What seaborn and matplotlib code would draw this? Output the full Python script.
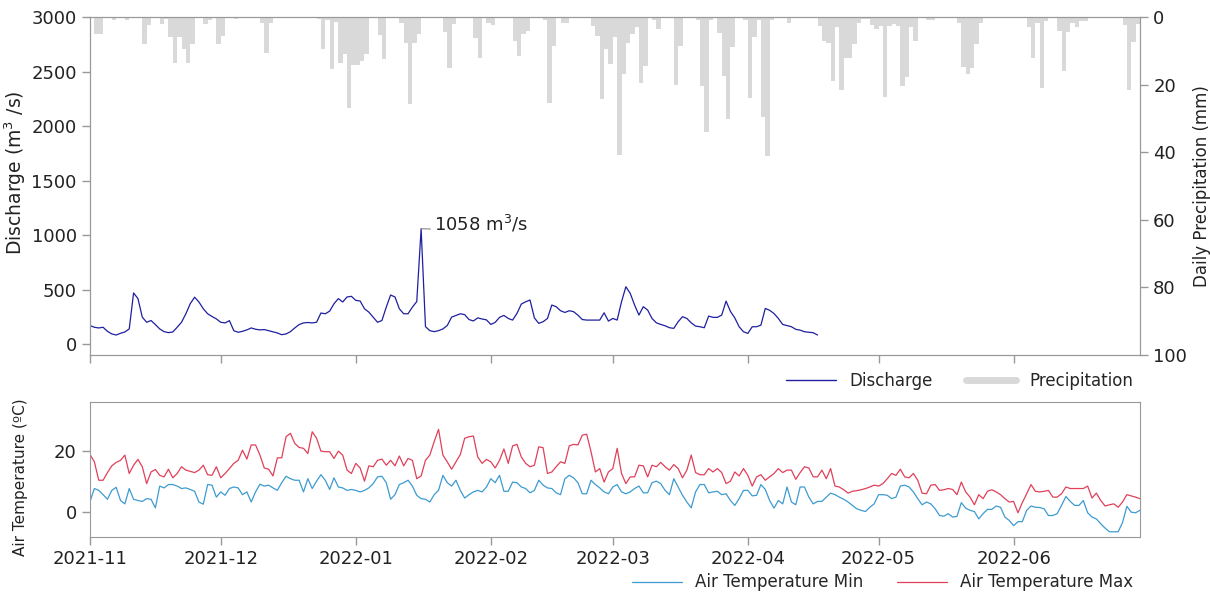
import numpy as np
import pandas as pd
import matplotlib
matplotlib.use("Agg")
import matplotlib.pyplot as plt
import matplotlib.dates as mdates
from matplotlib.lines import Line2D
import seaborn as sns

# ---------------- data ----------------
start_date = "2021-11-01"
end_date = "2022-06-30"

# daily precipitation (mm), one list per month
precip_nov = [0, 5, 5, 0, 0, 1, 0, 0, 1, 0, 0, 0, 8, 2.4, 0, 0, 2, 0.7, 6, 13.5,
              6, 9.6, 13.5, 8, 0, 0, 2, 1, 0, 8]
precip_dec = [5.6, 0, 0, 0.7, 0, 0, 0, 0, 0, 1.7, 10.5, 1.7, 0, 0, 0, 0, 0, 0.3, 0, 0,
              0, 0, 0.5, 9.4, 1, 15.5, 1.5, 13.5, 10.8, 27, 14.2]
precip_jan = [14.2, 13, 10.8, 0, 0, 5.3, 12.5, 0, 0, 0, 1.7, 7.6, 25.8, 7.6, 5, 0, 0, 0, 0, 0,
              4.3, 15.2, 2, 0, 0, 0, 0, 6.3, 12, 0, 1.7]
precip_feb = [2.4, 0, 0, 0, 0, 7, 11.5, 5, 4, 0, 0, 0, 1, 25.5, 8.6, 0, 1.7, 1.7, 0, 0,
              0, 0, 0, 2.7, 5.6, 24.4, 9.6, 14]
precip_mar = [6, 40.8, 17, 7.6, 5, 3, 19.4, 14.5, 0, 1, 3.6, 0, 0, 0, 20, 8.6, 0, 0, 0, 1,
              20.4, 34, 1, 0, 4.6, 17.5, 30.3, 9, 0, 0, 1]
precip_apr = [23.9, 6, 1, 29.6, 41, 1, 0, 0, 0, 1.7, 0, 0, 0, 0.3, 0.3, 0.3, 2.7, 7, 7.6, 19,
              3, 21.7, 12.2, 12, 8, 1.7, 0.7, 0.7, 2.4, 3.6]
precip_may = [2.7, 23.7, 2.7, 2.2, 2.7, 20.4, 17.8, 3, 7, 0, 0, 1, 1, 0, 0, 0, 0, 0, 1.7, 14.8,
              17, 15, 8, 1.7, 0, 0, 0, 0, 0, 0, 0]
precip_jun = [0, 0, 0, 3, 12, 1.7, 21, 1.2, 0, 0, 4, 16, 4.3, 1.7, 3, 1.2, 1.2, 0, 0, 0,
              0, 0, 0, 0, 0, 2.4, 21.7, 7.3, 2, 0]

# daily mean discharge (m3/s), 2021-11-01 .. 2022-04-17
discharge = [170, 154, 148, 154, 117, 93, 83, 99, 111, 139,
             469, 417, 247, 200, 216, 179, 139, 114, 105, 111,
             154, 200, 278, 370, 430, 386, 324, 278, 253, 231,
             200, 194, 215, 123, 108, 117, 130, 148, 136, 130,
             133, 123, 114, 102, 86, 93, 114, 148, 179, 194,
             198, 194, 200, 285, 278, 302, 370, 417, 386, 432,
             438, 401, 395, 324, 293, 247, 200, 216, 339, 450,
             432, 324, 278, 278, 339, 390, 1058, 160, 123, 114,
             123, 139, 170, 247, 262, 278, 270, 225, 212, 240,
             230, 222, 180, 199, 245, 263, 235, 220, 281, 367,
             388, 404, 240, 190, 205, 235, 358, 343, 306, 290,
             306, 297, 265, 225, 220, 220, 220, 220, 287, 211,
             235, 220, 388, 526, 465, 358, 266, 343, 312, 235,
             195, 180, 168, 150, 144, 205, 251, 235, 195, 165,
             159, 150, 257, 245, 245, 266, 394, 300, 240, 159,
             113, 98, 159, 159, 174, 327, 310, 280, 235, 180,
             170, 159, 135, 128, 113, 108, 104, 83]
peak_value = 1058

# daily air temperature (degC), 2021-11-01 .. 2022-06-30
temp_max = [18.9, 16.5, 10.5, 10.5, 13, 15.2, 16.3, 17, 18.7, 12.7,
            15.4, 17.3, 14.9, 9.4, 13.2, 14, 12.1, 11.6, 14.1, 11.3,
            12.7, 14.9, 13.8, 13.4, 13, 13.8, 15.4, 12.3, 12.1, 14.9,
            11.3, 12.7, 14.3, 16, 17, 20.3, 17.4, 22, 22, 18.7,
            14.5, 14.1, 11.9, 17.8, 17.8, 24.7, 25.8, 22.5, 21.2, 20.9,
            19.2, 26.3, 24.2, 20, 19.8, 19.8, 17.6, 20, 18.7, 13.8,
            12.7, 16, 14.5, 10.2, 15.2, 14.9, 17, 17.4, 15.4, 17,
            15.2, 18.4, 15.2, 17.6, 17, 11, 11.9, 17, 18.7, 23.1,
            27.1, 18.7, 16.5, 14.1, 16.5, 18.9, 24.2, 24.7, 24.9, 18.1,
            16, 17.3, 16.5, 14.5, 17, 20.7, 16, 21.7, 22.2, 18.1,
            16, 14.9, 15.4, 21.4, 21.1, 12.7, 13.2, 14.9, 16.5, 16,
            21.7, 22.2, 22, 25.2, 25.5, 19.8, 13.2, 14.3, 9.9, 13.2,
            14.3, 20.9, 12.7, 9.4, 11.6, 11.6, 15.4, 15.2, 11.6, 15.4,
            14.9, 16.3, 14.9, 13.8, 15.6, 14.3, 11.3, 13.8, 18.7, 13,
            12.3, 12.3, 14.3, 13.2, 14.3, 13, 9.4, 10.2, 13.2, 11.9,
            14.3, 12.1, 8.6, 11.6, 12.3, 10.5, 11.6, 12.7, 14.3, 13,
            13.8, 13.8, 10.8, 13, 14.9, 14.5, 11.6, 11.6, 13.8, 11,
            14.3, 8.6, 8.3, 7.4, 6.3, 6.9, 7.1, 7.4, 7.8, 8.3,
            8.9, 8.6, 9.4, 11, 12.7, 12.1, 14.1, 11.6, 11.3, 12.7,
            10.5, 6.3, 6.1, 8.9, 9.1, 7.2, 7.4, 7.8, 7.5, 5.8,
            9.9, 6.7, 5, 2.5, 5.8, 4.5, 6.9, 7.4, 6.7, 5.8,
            4.5, 3.4, 3.6, -0.1, 3.2, 6.1, 9.1, 6.9, 6.7, 6.9,
            7.2, 5, 5, 6.1, 8.3, 7.8, 7.8, 7.8, 7.8, 8.6,
            4.7, 6.3, 3.9, 2.1, 2.5, 2.8, 1.7, 3.4, 5.8, 5.4,
            5, 4.5]
temp_min = [3.6, 7.8, 7.2, 5.8, 4.3, 7.2, 8.2, 3.9, 2.8, 7.8,
            4.3, 3.9, 3.6, 4.5, 4.3, 1.5, 8.6, 8, 9.1, 9.1,
            8.6, 7.8, 8, 7.5, 6.9, 3.4, 2.7, 9.1, 8.9, 5,
            6.7, 5.6, 7.8, 8.3, 8, 5.8, 6.7, 3.4, 6.7, 9.2,
            8.6, 8.9, 8, 7.2, 9.7, 11.8, 11, 10.5, 10.5, 6.7,
            11, 7.8, 10.2, 12.3, 10.5, 7.5, 11.3, 8.3, 8, 7.2,
            7.5, 7.2, 6.7, 7.2, 8, 9.4, 11.6, 11.8, 9.7, 4.3,
            5.8, 9.1, 9.7, 10.5, 8.6, 5.6, 4.5, 4.3, 3.4, 5.8,
            7.2, 12.1, 9.7, 8.6, 10.5, 7.2, 4.7, 5.8, 6.7, 7.2,
            6.7, 8.3, 11, 9.7, 12.1, 6.9, 6.9, 9.9, 9.7, 8.3,
            7.8, 6.4, 7.2, 10.5, 8.9, 8, 7.8, 6.4, 5.8, 11,
            12.1, 11.3, 9.7, 6.1, 6.1, 10.5, 9.1, 8, 6.7, 6.1,
            8.3, 9.1, 6.7, 6.1, 6.7, 7.8, 8.6, 6.4, 6.4, 9.7,
            10.2, 9.4, 7.2, 5.8, 11, 8.3, 5.6, 3.4, 1.5, 6.7,
            9.1, 9.1, 6.4, 6.7, 6.9, 5.8, 6.1, 3.9, 2.3, 4.5,
            7.2, 7.2, 5.4, 5.6, 9.1, 7.5, 3.9, 1.4, 3.9, 2.8,
            8.3, 3.4, 2.5, 8.3, 8.3, 5, 2.8, 3.6, 3.6, 5,
            6.3, 5.8, 5, 4.3, 3.4, 2.3, 1.2, 0.7, 0.3, 1.7,
            2.8, 5.8, 5.8, 5.6, 4.5, 5, 8.6, 8.9, 8.3, 6.7,
            4.5, 2.5, 3.4, 2.8, 1.2, -1, -1.2, -0.4, -1.5, -1.3,
            3.2, 1.4, 0.7, 0.3, -2.1, -0.4, 1, 1, 2.1, 1.7,
            -1.5, -2.6, -4.3, -3, -3, 0.7, 2.1, 1.7, 1.6, 1.2,
            -1, -1, -0.4, 2.3, 5.2, 3.6, 2.3, 2.3, 3.9, -0.1,
            -1.5, -2.1, -3.7, -5.1, -6.3, -6.3, -6.3, -3.3, 2, 0.1,
            -0.1, 0.7]

# ---------------- frames ----------------
days = pd.date_range(start_date, end_date, freq="D")
precip = (precip_nov + precip_dec + precip_jan + precip_feb +
          precip_mar + precip_apr + precip_may + precip_jun)
weather = pd.DataFrame({"date": days, "precip": precip,
                        "tmin": temp_min, "tmax": temp_max})
flow = pd.DataFrame({"date": days[:len(discharge)], "discharge": discharge})

# ---------------- style ----------------
sns.set_style("ticks")
plt.rcParams["font.family"] = ["DejaVu Sans"]
plt.rcParams["axes.edgecolor"] = "#999999"
plt.rcParams["xtick.color"] = "#999999"
plt.rcParams["ytick.color"] = "#999999"
plt.rcParams["xtick.labelcolor"] = "#222222"
plt.rcParams["ytick.labelcolor"] = "#222222"
plt.rcParams["xtick.major.size"] = 6
plt.rcParams["ytick.major.size"] = 6
plt.rcParams["xtick.major.width"] = 1
plt.rcParams["ytick.major.width"] = 1

C_FLOW = "#1f1fa0"
C_RAIN = "#d9d9d9"
C_TMIN = "#3d9bd1"
C_TMAX = "#e0405a"
FS = 13
FS_LEG = 12
LABEL_X = -0.059

fig = plt.figure(figsize=(12.10, 5.97), dpi=100)
ax = fig.add_axes([0.0744, 0.4054, 0.8677, 0.5661])
axt = fig.add_axes([0.0744, 0.1005, 0.8677, 0.2261], sharex=ax)

# ---- discharge + precipitation ----
ax2 = ax.twinx()
ax2.bar(weather["date"], weather["precip"], width=1.0, align="edge",
        color=C_RAIN, linewidth=0)
ax2.set_ylim(100, 0)
ax2.set_ylabel("Daily Precipitation (mm)", fontsize=12, color="#222222", labelpad=4)
ax2.tick_params(axis="y", labelsize=FS)

sns.lineplot(data=flow, x="date", y="discharge", ax=ax, color=C_FLOW, lw=0.9)
ax.set_zorder(ax2.get_zorder() + 1)
ax.patch.set_visible(False)
ax.set_ylim(-100, 3000)
ax.set_yticks([0, 500, 1000, 1500, 2000, 2500, 3000])
ax.set_ylabel("Discharge (m$^3$ /s)", fontsize=13.5, color="#222222")
ax.yaxis.set_label_coords(LABEL_X, 0.538)
ax.set_xlabel("")
ax.tick_params(axis="y", labelsize=FS)
ax.tick_params(axis="x", labelbottom=False)

peak_idx = int(np.argmax(discharge))
ax.annotate(f"{peak_value} m$^3$/s", xy=(flow["date"][peak_idx], peak_value),
            xytext=(9, 3.5), textcoords="offset points", fontsize=FS,
            color="#222222", va="center", ha="left",
            arrowprops=dict(arrowstyle="-", color="#888888", lw=0.8,
                            relpos=(0, 0.25), shrinkA=0, shrinkB=0))

ax.legend(handles=[Line2D([], [], color=C_FLOW, lw=1),
                   Line2D([], [], color=C_RAIN, lw=5)],
          labels=["Discharge", "Precipitation"], loc="upper right",
          bbox_to_anchor=(1.0, -0.03), ncol=2, frameon=False, fontsize=FS_LEG,
          handlelength=3.0, columnspacing=2.0, borderaxespad=0)

# ---- air temperature ----
sns.lineplot(data=weather, x="date", y="tmin", ax=axt, color=C_TMIN, lw=0.9,
             label="Air Temperature Min")
sns.lineplot(data=weather, x="date", y="tmax", ax=axt, color=C_TMAX, lw=0.9,
             label="Air Temperature Max")
axt.set_ylim(-8, 36)
axt.set_yticks([0, 20])
axt.set_ylabel("Air Temperature (ºC)", fontsize=11, color="#222222")
axt.yaxis.set_label_coords(LABEL_X, 0.444)
axt.set_xlabel("")
axt.tick_params(labelsize=FS)
axt.legend(loc="upper right", bbox_to_anchor=(1.0, -0.22), ncol=2, frameon=False,
           fontsize=FS_LEG, handlelength=3.0, columnspacing=2.0, borderaxespad=0)

axt.set_xlim(pd.Timestamp(start_date), pd.Timestamp(end_date))
axt.xaxis.set_major_locator(mdates.MonthLocator())
axt.xaxis.set_major_formatter(mdates.DateFormatter("%Y-%m"))

fig.savefig("out.png", dpi=100)
